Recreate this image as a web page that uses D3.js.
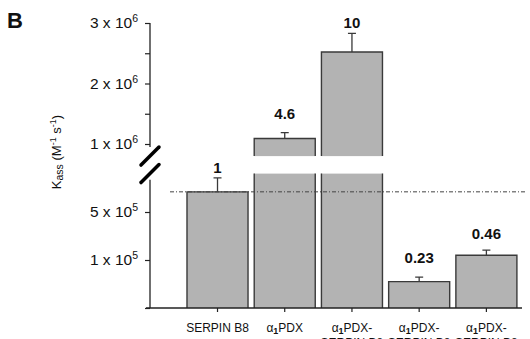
<!DOCTYPE html>
<html>
<head>
<meta charset="utf-8">
<script src="https://cdn.jsdelivr.net/npm/d3@7"></script>
<style>
  body { margin: 0; background: #fff; }
  text { font-family: Arial, "Liberation Sans", sans-serif; fill: #111; }
</style>
</head>
<body>
<svg id="chart" width="530" height="339"></svg>
<script>
// data
const categories = ["SERPIN B8", "α1PDX", "α1PDX-SERPIN B8 a", "α1PDX-SERPIN B8 b", "α1PDX-SERPIN B8 c"];
const catLines = [["SERPIN B8"], ["α1PDX"], ["α1PDX-", "SERPIN B8"], ["α1PDX-", "SERPIN B8"], ["α1PDX-", "SERPIN B8"]];
const kass = [2.42e5, 1.09e6, 2.52e6, 5.5e4, 1.1e5];
const kassErr = [2.9e4, 9.9e4, 3.09e5, 9.2e3, 1.04e4];
const ratioLabels = ["1", "4.6", "10", "0.23", "0.46"];
const upperTicks = [1e6, 1.5e6, 2e6, 2.5e6, 3e6];
const upperTickLabels = [["1", "6"], null, ["2", "6"], null, ["3", "6"]];
const lowerTicks = [0, 1e5, 2e5];
const lowerTickLabels = [null, ["1", "5"], ["5", "5"]];

// layout
const labelGap = [5, 14, 5, 14, 11];
const axisX = 150, baseY = 308;
const breakLow = 2.8e5, breakUp = 8e5;

const svg = d3.select("#chart");

const x = d3.scaleBand().domain(categories).range([183.9, 520]).paddingInner(0.092).paddingOuter(0.046);
const yLow = d3.scaleLinear().domain([0, breakLow]).range([baseY, 173.6]);
const yUp = d3.scaleLinear().domain([breakUp, 3e6]).range([156.1, 23]);

const bars = categories.map((c, i) => ({ c, v: kass[i], e: kassErr[i], label: ratioLabels[i], gap: labelGap[i] }));

// bars
const barStroke = "#3a3a3a", barFill = "#b3b3b3";
bars.forEach(d => {
  const x0 = x(d.c), x1 = x0 + x.bandwidth();
  const tall = d.v > breakLow;
  const lowTop = tall ? yLow(breakLow) : yLow(d.v);
  svg.append("rect").attr("x", x0).attr("y", lowTop).attr("width", x1 - x0).attr("height", baseY - lowTop).attr("fill", barFill);
  const p = d3.path();
  if (tall) {
    p.moveTo(x0, baseY); p.lineTo(x0, lowTop);
    p.moveTo(x1, lowTop); p.lineTo(x1, baseY);
    const upTop = yUp(d.v), upBot = yUp(breakUp);
    svg.append("rect").attr("x", x0).attr("y", upTop).attr("width", x1 - x0).attr("height", upBot - upTop).attr("fill", barFill);
    p.moveTo(x0, upBot); p.lineTo(x0, upTop); p.lineTo(x1, upTop); p.lineTo(x1, upBot);
  } else {
    p.moveTo(x0, baseY); p.lineTo(x0, lowTop); p.lineTo(x1, lowTop); p.lineTo(x1, baseY);
  }
  svg.append("path").attr("d", p.toString()).attr("fill", "none").attr("stroke", barStroke).attr("stroke-width", 1.4);

  // error bar
  const ys = tall ? yUp : yLow;
  const cx = x0 + x.bandwidth() / 2;
  const capY = ys(d.v + d.e);
  svg.append("path")
    .attr("d", `M${cx},${ys(d.v)}V${capY}M${cx - 4},${capY}H${cx + 4}`)
    .attr("fill", "none").attr("stroke", barStroke).attr("stroke-width", 1.3);

  // ratio label
  svg.append("text").attr("x", cx).attr("y", capY - d.gap)
    .attr("text-anchor", "middle").attr("font-weight", "bold").attr("font-size", 15)
    .text(d.label);
});

// reference line at SERPIN B8 level
svg.append("line")
  .attr("x1", 170).attr("x2", 527)
  .attr("y1", yLow(kass[0])).attr("y2", yLow(kass[0]))
  .attr("stroke", "#444").attr("stroke-width", 1).attr("stroke-dasharray", "4,2,1,2");

// y axes
svg.append("g").attr("transform", `translate(${axisX},0)`)
  .call(d3.axisLeft(yUp).tickValues(upperTicks).tickSize(5).tickFormat(""));
svg.append("g").attr("transform", `translate(${axisX},0)`)
  .call(d3.axisLeft(yLow).tickValues(lowerTicks).tickSize(5).tickFormat(""));
svg.selectAll(".domain").remove();
svg.selectAll(".tick line").attr("stroke", "#222").attr("stroke-width", 1.2);
svg.append("line").attr("x1", axisX).attr("x2", axisX).attr("y1", yUp(3e6)).attr("y2", yUp(9.5e5)).attr("stroke", "#222").attr("stroke-width", 1.3);
svg.append("line").attr("x1", axisX).attr("x2", axisX).attr("y1", yLow(2.67e5)).attr("y2", baseY).attr("stroke", "#222").attr("stroke-width", 1.3);

function expLabel(y, lab) {
  const t = svg.append("text").attr("x", 138).attr("y", y + 5).attr("text-anchor", "end").attr("font-size", 15.5);
  t.append("tspan").text(lab[0] + " x 10");
  t.append("tspan").attr("dy", -6).attr("font-size", 10.5).text(lab[1]);
}
upperTicks.forEach((v, i) => { if (upperTickLabels[i]) expLabel(yUp(v), upperTickLabels[i]); });
lowerTicks.forEach((v, i) => { if (lowerTickLabels[i]) expLabel(yLow(v), lowerTickLabels[i]); });

// break marks
[yUp(breakUp), yLow(breakLow)].forEach(y => {
  svg.append("line").attr("x1", axisX - 9).attr("y1", y + 9).attr("x2", axisX + 9).attr("y2", y - 9)
    .attr("stroke", "#000").attr("stroke-width", 3.5).attr("stroke-linecap", "round");
});

// x axis
svg.append("line").attr("x1", axisX - 4).attr("x2", 522).attr("y1", baseY).attr("y2", baseY).attr("stroke", "#222").attr("stroke-width", 1.3);
categories.forEach((c, i) => {
  const cx = x(c) + x.bandwidth() / 2;
  svg.append("line").attr("x1", cx).attr("x2", cx).attr("y1", baseY).attr("y2", baseY + 4).attr("stroke", "#222").attr("stroke-width", 1.2);
  catLines[i].forEach((line, j) => {
    const t = svg.append("text").attr("x", cx).attr("y", 332 + j * 14.5).attr("text-anchor", "middle").attr("font-size", 12);
    if (line.startsWith("α1")) {
      t.append("tspan").text("α");
      t.append("tspan").attr("dy", 2).attr("font-size", 9).attr("font-weight", "bold").text("1");
      t.append("tspan").attr("dy", -2).text(line.slice(2));
    } else {
      t.text(line);
    }
  });
});

// y label
const yl = svg.append("text").attr("transform", "translate(61,152) rotate(-90)").attr("text-anchor", "middle").attr("font-size", 13);
yl.append("tspan").text("K");
yl.append("tspan").attr("dy", 2).attr("font-size", 10.5).text("ass");
yl.append("tspan").attr("dy", -2).text(" (M");
yl.append("tspan").attr("dy", -5).attr("font-size", 9).text("-1");
yl.append("tspan").attr("dy", 5).text(" s");
yl.append("tspan").attr("dy", -5).attr("font-size", 9).text("-1");
yl.append("tspan").attr("dy", 5).text(")");

// panel letter
svg.append("text").attr("x", 7).attr("y", 28).attr("font-size", 22).attr("font-weight", "bold").text("B");
</script>
</body>
</html>
